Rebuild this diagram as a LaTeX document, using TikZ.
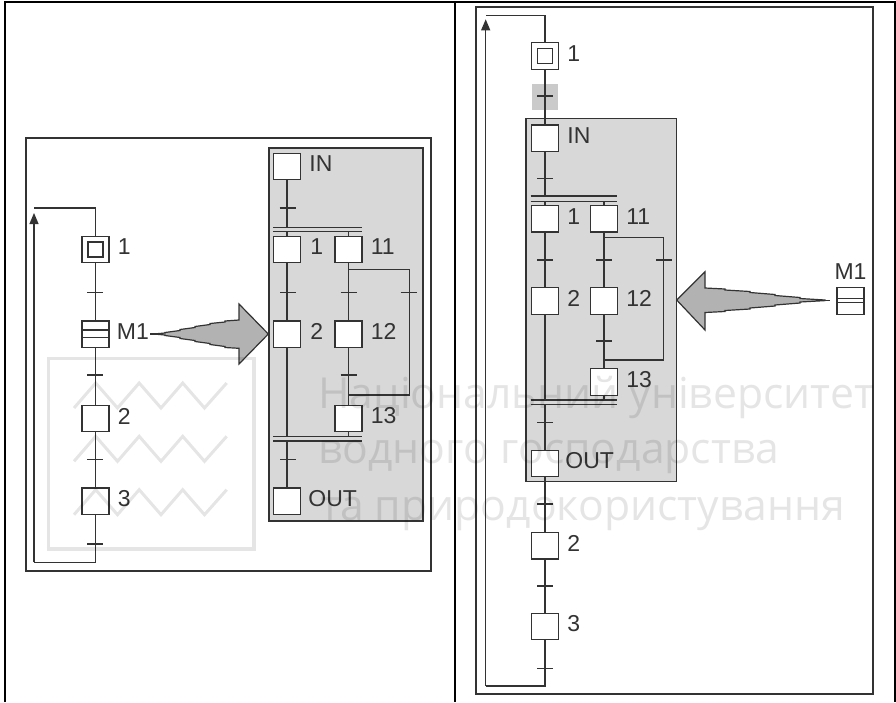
\documentclass[tikz,border=0pt]{standalone}
\usepackage{fontspec}
\setmainfont{Liberation Sans}
\newfontfamily\wmfont{Open Sans}
\usetikzlibrary{positioning, arrows.meta}

\definecolor{inkgray}{HTML}{333333}
\definecolor{panelgray}{HTML}{D8D8D8}
\definecolor{arrowgray}{HTML}{B2B2B2}
\definecolor{tickgray}{HTML}{CACACA}

\tikzset{
    wire/.style={draw=inkgray, line width=1.2pt},
    frame/.style={draw=inkgray, line width=1.5pt},
    stepbox/.style={draw=inkgray, line width=1.4pt, fill=white, minimum width=27pt, minimum height=26.5pt, inner sep=0pt},
    innerbox/.style={draw=inkgray, line width=1.4pt, fill=white, minimum width=15pt, minimum height=15pt, inner sep=0pt},
    steplbl/.style={text=inkgray, font=\fontsize{23}{23}\selectfont, inner sep=0pt, yshift=2.5pt},
    wmline/.style={anchor=base west, inner sep=0pt, font=\wmfont\fontsize{42.7}{42.7}\selectfont},
}

% transition tick: name, x, y
\newcommand{\trans}[3]{
    \coordinate (#1) at (#2,#3);
    \draw[wire] ([xshift=-8pt]#1) -- ([xshift=8pt]#1);
}

\begin{document}
\begin{tikzpicture}[x=1pt, y=-1pt, >=Stealth]
    \useasboundingbox (0,0) rectangle (896,702);
    \fill[white] (0,0) rectangle (896,702);

    % Table lines
    \draw[black, line width=2pt] (5,702) -- (5,2) -- (894.5,2) -- (894.5,702);
    \draw[black, line width=2pt] (455,2) -- (455,702);

    % Left frame and panel
    \draw[frame] (26,138) rectangle (431,571);
    \draw[frame, fill=panelgray] (269,148) rectangle (423,521);

    % Left chain
    \node[stepbox] (a1) at (95.5,249.5) {};
    \node[innerbox] (a1in) at (95.5,249.5) {};
    \node[stepbox] (am) at (95.5,334.3) {};
    \node[stepbox] (a2) at (95.5,418.5) {};
    \node[stepbox] (a3) at (95.5,501.3) {};
    \draw[wire] (am.west |- 0,330) -- (am.east |- 0,330);
    \draw[wire] (am.west |- 0,337.5) -- (am.east |- 0,337.5);
    \node[steplbl, right=8pt of a1] (a1lbl) {1};
    \node[steplbl, right=7pt of am] (amlbl) {M1};
    \node[steplbl, right=8pt of a2] (a2lbl) {2};
    \node[steplbl, right=8pt of a3] (a3lbl) {3};

    \coordinate (aback) at (34,208);
    \coordinate (aend) at (95.5,562.3);
    \draw[wire] (a1.south) -- (am.north);
    \draw[wire] (am.south) -- (a2.north);
    \draw[wire] (a2.south) -- (a3.north);
    \draw[wire] (a3.south) -- (aend) -- (aend -| aback);
    \draw[wire] (a1.north) |- (aback);
    \draw[wire, -{Stealth[length=11pt, width=9pt, inset=0pt]}, shorten >=5pt] (aend -| aback) -- (aback);
    \trans{ta}{95}{292.5}
    \trans{tb}{95}{375}
    \trans{tc}{95}{459.3}
    \trans{td}{95}{544}

    % Left panel steps
    \node[stepbox] (bin) at (287,166.5) {};
    \node[stepbox] (b1) at (287,249.5) {};
    \node[stepbox] (b11) at (348.5,249.5) {};
    \node[stepbox] (b2) at (287,334.3) {};
    \node[stepbox] (b12) at (348.5,334.3) {};
    \node[stepbox] (b13) at (348.5,418.5) {};
    \node[stepbox] (bout) at (287,501.3) {};
    \node[steplbl, right=8pt of bin] (binlbl) {IN};
    \node[steplbl, right=9pt of b1] (b1lbl) {1};
    \node[steplbl, right=8pt of b11] (b11lbl) {11};
    \node[steplbl, right=9pt of b2] (b2lbl) {2};
    \node[steplbl, right=8pt of b12] (b12lbl) {12};
    \node[steplbl, right=8pt of b13] (b13lbl) {13};
    \node[steplbl, right=7pt of bout] (boutlbl) {OUT};

    % Left panel bars and branches
    \draw[wire] (273,227.7) -- (362,227.7);
    \draw[wire] (273,231.5) -- (362,231.5);
    \draw[wire] (273,436.5) -- (362,436.5);
    \draw[wire] (273,441) -- (362,441);
    \coordinate (bloop) at (409.3,269.3);
    \coordinate (bjoin) at (348.5,395);
    \draw[wire] (bin.south) -- (bin.south |- 0,227.7);
    \draw[wire] (b1.north) -- (b1.north |- 0,231.5);
    \draw[wire] (b11.north) -- (b11.north |- 0,231.5);
    \draw[wire] (b1.south) -- (b2.north);
    \draw[wire] (b11.south) -- (b12.north);
    \draw[wire] (b12.south) -- (b13.north);
    \draw[wire] (b2.south) -- (b2.south |- 0,436.5);
    \draw[wire] (b13.south) -- (b13.south |- 0,436.5);
    \draw[wire] (b2.south |- 0,441) -- (bout.north);
    \draw[wire] (b11.south |- bloop) -- (bloop) |- (bjoin);
    \trans{te}{287.5}{208}
    \trans{tf}{288}{292.7}
    \trans{tg}{348.5}{292.7}
    \trans{th}{408.5}{292.7}
    \trans{ti}{348.5}{375}
    \trans{tj}{288}{459.3}

    % Left big arrow
    \draw[wire] (150,334) -- (160,334);
    \draw[inkgray, line width=1.2pt, fill=arrowgray] (268.3,334) -- (239,304) -- (239,320)
        -- (225,321) -- (225,322) -- (210,323.5) -- (210,324.5) -- (195,326.5) -- (195,327.5)
        -- (180,329.5) -- (180,330.5) -- (165,332.5) -- (165,333) -- (157,333.7) -- (157,334.3)
        -- (165,335) -- (165,335.5) -- (180,337.5) -- (180,338.5) -- (195,340.5) -- (195,341.5)
        -- (210,343.5) -- (210,344.5) -- (225,346.5) -- (225,347.5) -- (239,348.3) -- (239,364) -- cycle;

    % Right frame and panel
    \draw[frame] (476,7) rectangle (873,694);
    \fill[tickgray] (532,84.3) rectangle (558,110);
    \draw[frame, fill=panelgray] (526,118.3) rectangle (676.7,481.7);

    % Right chain
    \node[stepbox] (c1) at (545,56) {};
    \node[innerbox] (c1in) at (545,56) {};
    \node[stepbox] (cin) at (545,138.2) {};
    \node[stepbox] (d1) at (545,218.7) {};
    \node[stepbox] (d11) at (604,218.7) {};
    \node[stepbox] (d2) at (545,301) {};
    \node[stepbox] (d12) at (604,301) {};
    \node[stepbox] (d13) at (604,382) {};
    \node[stepbox] (cout) at (545,463.5) {};
    \node[stepbox] (c2) at (545,545.7) {};
    \node[stepbox] (c3) at (545,626.5) {};
    \node[stepbox] (cm) at (850.5,301) {};
    \draw[wire] (cm.west |- 0,298.3) -- (cm.east |- 0,298.3);
    \draw[wire] (cm.west |- 0,302.5) -- (cm.east |- 0,302.5);
    \node[steplbl, right=8pt of c1] (c1lbl) {1};
    \node[steplbl, right=8pt of cin] (cinlbl) {IN};
    \node[steplbl, right=8pt of d1] (d1lbl) {1};
    \node[steplbl, right=8pt of d11] (d11lbl) {11};
    \node[steplbl, right=8pt of d2] (d2lbl) {2};
    \node[steplbl, right=8pt of d12] (d12lbl) {12};
    \node[steplbl, right=8pt of d13] (d13lbl) {13};
    \node[steplbl, right=6pt of cout] (coutlbl) {OUT};
    \node[steplbl, right=8pt of c2] (c2lbl) {2};
    \node[steplbl, right=8pt of c3] (c3lbl) {3};
    \node[steplbl, above=5pt of cm] (cmlbl) {M1};

    \coordinate (cback) at (485.7,15.3);
    \coordinate (cend) at (545,686);
    \draw[wire] (c1.south) -- (cin.north);
    \draw[wire] (cout.south) -- (c2.north);
    \draw[wire] (c2.south) -- (c3.north);
    \draw[wire] (c3.south) -- (cend) -- (cend -| cback);
    \draw[wire] (c1.north) |- (cback);
    \draw[wire, -{Stealth[length=11pt, width=9pt, inset=0pt]}, shorten >=4pt] (cend -| cback) -- (cback);
    \trans{tk}{545}{96}
    \trans{tl}{545}{504}
    \trans{tm}{545}{586}
    \trans{tn}{545}{668.3}

    % Right panel bars and branches
    \draw[wire] (530.7,196) -- (617,196);
    \draw[wire] (530.7,201.3) -- (617,201.3);
    \draw[wire] (530.7,400) -- (617,400);
    \draw[wire] (530.7,404.3) -- (617,404.3);
    \coordinate (dloop) at (663.3,237.7);
    \coordinate (djoin) at (604,360);
    \draw[wire] (cin.south) -- (cin.south |- 0,196);
    \draw[wire] (d1.north) -- (d1.north |- 0,201.3);
    \draw[wire] (d11.north) -- (d11.north |- 0,201.3);
    \draw[wire] (d1.south) -- (d2.north);
    \draw[wire] (d11.south) -- (d12.north);
    \draw[wire] (d12.south) -- (d13.north);
    \draw[wire] (d2.south) -- (d2.south |- 0,400);
    \draw[wire] (d13.south) -- (d13.south |- 0,400);
    \draw[wire] (d2.south |- 0,404.3) -- (cout.north);
    \draw[wire] (d11.south |- dloop) -- (dloop) |- (djoin);
    \trans{to}{545}{178.3}
    \trans{tp}{545}{260}
    \trans{tq}{604}{260}
    \trans{tr}{664}{260}
    \trans{ts}{604}{341}
    \trans{tt}{545}{422.7}

    % Right big arrow
    \draw[wire] (820,300.5) -- (830,300.5);
    \draw[inkgray, line width=1.2pt, fill=arrowgray] (676.7,300) -- (705,271.7) -- (705,288)
        -- (725,289) -- (725,290) -- (750,291.5) -- (750,292.5) -- (775,294.5) -- (775,295.5)
        -- (800,297.5) -- (800,298.5) -- (825,300) -- (825,300.6)
        -- (800,302) -- (800,303) -- (775,305) -- (775,306) -- (750,308)
        -- (750,309) -- (725,310.5) -- (725,311.5) -- (705,312.5) -- (705,330) -- cycle;

    % Watermark
    \begin{scope}[opacity=0.1]
        \draw[line width=3.5pt] (48.5,358.5) rectangle (254,549);
        \foreach \yy in {0,53.3,106.7} {
            \draw[line width=3pt, yshift=-\yy pt] (74,408) -- (95.7,383) -- (117.5,408) -- (139.2,383)
                -- (161,408) -- (182.7,383) -- (204.5,408) -- (226.7,383);
        }
        \node[wmline] (wma) at (318,408) {Національний університет};
        \node[wmline] (wmb) at (318,463) {водного господарства};
        \node[wmline] (wmc) at (320,520) {та природокористування};
    \end{scope}
\end{tikzpicture}
\end{document}
